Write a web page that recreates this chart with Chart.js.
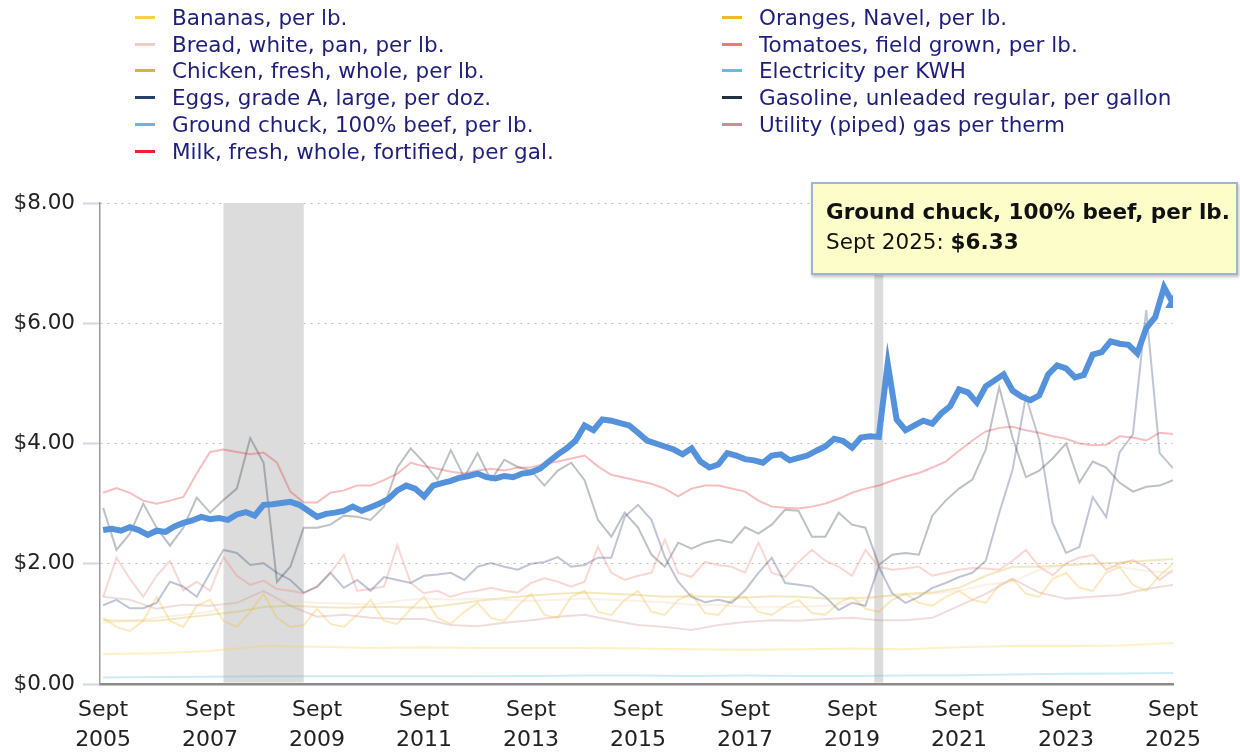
<!DOCTYPE html>
<html>
<head>
<meta charset="utf-8">
<script src="https://cdn.jsdelivr.net/npm/chart.js@4.4.1/dist/chart.umd.min.js"></script>
<style>
  body { margin: 0; background: #fff; font-family: "DejaVu Sans", Verdana, sans-serif; }
  #wrap { position: relative; width: 1240px; height: 755px; overflow: hidden; }
  #chart { position: absolute; left: 0; top: 0; }
  .legend-col { position: absolute; top: 4px; }
  .legend-item { height: 26.8px; display: flex; align-items: center; font-size: 21.5px; color: #1f1f7a; white-space: nowrap; }
  .legend-item .swatch { width: 20px; height: 3px; margin-right: 17px; flex: none; }
  #tip { position: absolute; left: 811px; top: 182px; width: 427px; height: 93px; box-sizing: border-box;
         background: #fdfdca; border: 2px solid #9db5d4; box-shadow: 1px 2px 3px rgba(0,0,0,0.25);
         padding: 13px 0 0 13px; color: #111; font-size: 21.5px; line-height: 30px; white-space: nowrap; }
  #tip .t { font-weight: bold; }
</style>
</head>
<body>
<div id="wrap">
  <canvas id="chart" width="1240" height="755"></canvas>
  <div class="legend-col" id="legend-left" style="left:135px"></div>
  <div class="legend-col" id="legend-right" style="left:722px"></div>
  <div id="tip"><div class="t" id="tip-title"></div><div id="tip-body"></div></div>
</div>
<script>
// months are counted from Sept 2005 (0) to Sept 2025 (240)
const seriesNames = [
  'Bananas, per lb.',
  'Bread, white, pan, per lb.',
  'Chicken, fresh, whole, per lb.',
  'Eggs, grade A, large, per doz.',
  'Ground chuck, 100% beef, per lb.',
  'Milk, fresh, whole, fortified, per gal.',
  'Oranges, Navel, per lb.',
  'Tomatoes, field grown, per lb.',
  'Electricity per KWH',
  'Gasoline, unleaded regular, per gallon',
  'Utility (piped) gas per therm'
];
const seriesColors = ['#f7d23e', '#f2cfae', '#d8b733', '#2c3e6e', '#72b0ea', '#e8232a',
                      '#f4b62c', '#f07b6b', '#5cc1dc', '#23303f', '#c9908f'];
// sampling step (months) of each series
const seriesSteps = [12, 6, 6, 3, 2, 3, 3, 3, 12, 3, 6];

const tickYears = [2005, 2007, 2009, 2011, 2013, 2015, 2017, 2019, 2021, 2023, 2025];
const yTicks = [0, 2, 4, 6, 8];
const recessions = [[27, 45], [173, 175]]; // Dec 2007 - Jun 2009, Feb - Apr 2020

// yearly, each Sept
const bananas = [0.50, 0.51, 0.55, 0.63, 0.62, 0.60, 0.61, 0.60, 0.60, 0.60, 0.59,
                 0.58, 0.57, 0.58, 0.59, 0.58, 0.61, 0.63, 0.63, 0.64, 0.68];
const electricity = [0.11, 0.115, 0.12, 0.13, 0.13, 0.13, 0.13, 0.13, 0.135, 0.14, 0.14,
                     0.135, 0.14, 0.135, 0.135, 0.14, 0.145, 0.16, 0.17, 0.175, 0.185];

// every 6 months (Sept, Mar)
const bread = [1.02, 1.05, 1.10, 1.15, 1.20, 1.35, 1.40, 1.38, 1.35, 1.34, 1.32, 1.38, 1.42, 1.40,
               1.42, 1.40, 1.38, 1.40, 1.42, 1.40, 1.38, 1.36, 1.32, 1.32, 1.28, 1.28, 1.28, 1.30,
               1.35, 1.45, 1.48, 1.50, 1.55, 1.65, 1.70, 1.90, 1.98, 2.00, 1.95, 1.88, 1.85];
const chicken = [1.06, 1.05, 1.05, 1.10, 1.15, 1.20, 1.28, 1.30, 1.28, 1.27, 1.28, 1.28, 1.27, 1.32,
                 1.38, 1.43, 1.47, 1.50, 1.52, 1.50, 1.48, 1.45, 1.46, 1.45, 1.44, 1.46, 1.45, 1.42,
                 1.42, 1.45, 1.50, 1.52, 1.60, 1.80, 1.95, 1.95, 1.98, 2.00, 2.02, 2.05, 2.08];
const utilityGas = [1.45, 1.40, 1.25, 1.32, 1.30, 1.35, 1.55, 1.30, 1.12, 1.15, 1.10, 1.08, 1.08, 0.98,
                    0.96, 1.02, 1.06, 1.12, 1.15, 1.06, 0.98, 0.95, 0.90, 0.98, 1.03, 1.06, 1.05, 1.08,
                    1.10, 1.06, 1.06, 1.10, 1.30, 1.50, 1.75, 1.52, 1.42, 1.45, 1.48, 1.58, 1.65];

// quarterly (Sept, Dec, Mar, June)
const eggs = [1.31, 1.40, 1.26, 1.26, 1.35, 1.70, 1.62, 1.45, 1.85, 2.23, 2.18, 1.98,
              2.01, 1.85, 1.73, 1.52, 1.62, 1.85, 1.60, 1.73, 1.55, 1.78, 1.73, 1.68,
              1.80, 1.82, 1.85, 1.73, 1.95, 2.01, 1.95, 1.90, 2.00, 2.03, 2.11, 1.95,
              1.98, 2.10, 2.10, 2.78, 2.98, 2.73, 2.11, 1.70, 1.45, 1.36, 1.40, 1.35,
              1.56, 1.85, 2.10, 1.68, 1.65, 1.62, 1.45, 1.23, 1.35, 1.30, 1.95, 1.51,
              1.35, 1.45, 1.60, 1.68, 1.78, 1.85, 2.05, 2.84, 3.56, 4.78, 4.06, 2.68,
              2.18, 2.28, 3.11, 2.78, 3.85, 4.15, 6.22, 3.84, 3.59];
const milk = [3.18, 3.26, 3.18, 3.05, 3.00, 3.05, 3.11, 3.50, 3.86, 3.90, 3.86, 3.82,
              3.85, 3.68, 3.20, 3.02, 3.02, 3.18, 3.22, 3.30, 3.30, 3.39, 3.50, 3.68,
              3.62, 3.58, 3.53, 3.50, 3.55, 3.58, 3.55, 3.60, 3.60, 3.66, 3.70, 3.75,
              3.80, 3.62, 3.48, 3.43, 3.38, 3.33, 3.25, 3.12, 3.25, 3.30, 3.30, 3.25,
              3.20, 3.05, 2.95, 2.93, 2.92, 2.95, 3.00, 3.08, 3.18, 3.25, 3.30, 3.38,
              3.45, 3.51, 3.60, 3.70, 3.88, 4.05, 4.20, 4.26, 4.28, 4.22, 4.18, 4.12,
              4.08, 4.00, 3.97, 3.98, 4.12, 4.10, 4.05, 4.18, 4.16];
const oranges = [1.10, 0.95, 0.88, 1.05, 1.45, 1.05, 0.95, 1.30, 1.40, 1.05, 0.95, 1.20,
                 1.50, 1.10, 0.95, 0.98, 1.25, 1.00, 0.95, 1.15, 1.40, 1.05, 1.00, 1.25,
                 1.45, 1.10, 1.00, 1.20, 1.35, 1.10, 1.05, 1.30, 1.50, 1.15, 1.10, 1.45,
                 1.55, 1.20, 1.15, 1.40, 1.55, 1.20, 1.15, 1.40, 1.50, 1.18, 1.15, 1.40,
                 1.45, 1.20, 1.15, 1.30, 1.40, 1.18, 1.15, 1.35, 1.45, 1.25, 1.20, 1.40,
                 1.50, 1.35, 1.30, 1.45, 1.55, 1.40, 1.35, 1.65, 1.75, 1.50, 1.45, 1.75,
                 1.85, 1.60, 1.55, 1.85, 1.95, 1.65, 1.55, 1.80, 2.00];
const tomatoes = [1.45, 2.10, 1.75, 1.45, 1.80, 2.05, 1.56, 1.70, 1.55, 2.11, 1.80, 1.65,
                  1.72, 1.58, 1.55, 1.51, 1.62, 1.85, 2.15, 1.55, 1.58, 1.62, 2.31, 1.68,
                  1.51, 1.55, 1.45, 1.52, 1.55, 1.60, 1.55, 1.52, 1.68, 1.76, 1.70, 1.62,
                  1.70, 2.28, 1.85, 1.73, 1.80, 1.85, 2.40, 1.85, 1.78, 2.03, 1.98, 1.95,
                  1.85, 2.35, 1.85, 1.78, 2.03, 2.23, 2.05, 1.95, 1.80, 2.23, 1.95, 1.90,
                  1.92, 1.95, 1.80, 1.85, 1.90, 1.93, 1.92, 1.90, 2.05, 2.23, 1.95, 1.81,
                  2.01, 2.10, 2.15, 1.90, 2.00, 2.06, 1.95, 1.73, 1.90];
const gasoline = [2.93, 2.23, 2.50, 3.00, 2.60, 2.30, 2.60, 3.10, 2.85, 3.06, 3.25, 4.09,
                  3.68, 1.70, 1.95, 2.60, 2.60, 2.65, 2.80, 2.78, 2.73, 2.95, 3.60, 3.92,
                  3.68, 3.40, 3.89, 3.44, 3.84, 3.39, 3.73, 3.61, 3.55, 3.30, 3.55, 3.68,
                  3.39, 2.73, 2.45, 2.85, 2.60, 2.15, 1.95, 2.35, 2.25, 2.35, 2.40, 2.35,
                  2.61, 2.50, 2.65, 2.90, 2.88, 2.45, 2.45, 2.85, 2.65, 2.60, 1.98, 2.15,
                  2.18, 2.15, 2.80, 3.05, 3.25, 3.40, 3.90, 4.94, 4.10, 3.44, 3.55, 3.75,
                  4.00, 3.35, 3.70, 3.60, 3.35, 3.20, 3.28, 3.30, 3.39];

// every 2 months (Sept, Nov, Jan, Mar, May, July)
const groundChuck = [2.56, 2.58, 2.55, 2.61, 2.56, 2.48, 2.55, 2.53, 2.62, 2.68, 2.72, 2.78,
                     2.74, 2.76, 2.73, 2.82, 2.86, 2.80, 2.98, 2.99, 3.01, 3.03, 2.98, 2.88,
                     2.78, 2.83, 2.85, 2.88, 2.95, 2.88, 2.94, 3.00, 3.08, 3.22, 3.30, 3.25,
                     3.12, 3.30, 3.34, 3.38, 3.43, 3.46, 3.50, 3.44, 3.42, 3.46, 3.44, 3.50,
                     3.52, 3.58, 3.70, 3.82, 3.92, 4.05, 4.30, 4.22, 4.40, 4.38, 4.34, 4.30,
                     4.18, 4.05, 4.00, 3.95, 3.90, 3.82, 3.92, 3.70, 3.60, 3.65, 3.84, 3.80,
                     3.74, 3.72, 3.68, 3.80, 3.82, 3.72, 3.76, 3.80, 3.88, 3.95, 4.08, 4.04,
                     3.93, 4.10, 4.12, 4.11, 5.33, 4.40, 4.22, 4.30, 4.38, 4.33, 4.50, 4.62,
                     4.90, 4.85, 4.68, 4.95, 5.05, 5.15, 4.88, 4.78, 4.72, 4.80, 5.15, 5.30,
                     5.25, 5.10, 5.14, 5.48, 5.52, 5.70, 5.66, 5.64, 5.50, 5.92, 6.10, 6.60,
                     6.33];

const seriesValues = [bananas, bread, chicken, eggs, groundChuck, milk, oranges, tomatoes,
                      electricity, gasoline, utilityGas];
const highlighted = 4;

function toPoints(values, step) {
  return values.map((v, i) => ({ x: i * step, y: v }));
}

function fade(hex, a) {
  const n = parseInt(hex.slice(1), 16);
  return `rgba(${n >> 16},${(n >> 8) & 255},${n & 255},${a})`;
}

// legend, two columns
seriesNames.forEach((name, i) => {
  const col = document.getElementById(i < 6 ? 'legend-left' : 'legend-right');
  const item = document.createElement('div');
  item.className = 'legend-item';
  item.innerHTML = `<span class="swatch" style="background:${seriesColors[i]}"></span><span>${name}</span>`;
  col.appendChild(item);
});

// fixed tooltip on the last ground chuck value
const lastValue = groundChuck[groundChuck.length - 1];
document.getElementById('tip-title').textContent = seriesNames[highlighted];
document.getElementById('tip-body').innerHTML =
  `Sept ${tickYears[tickYears.length - 1]}: <b>$${lastValue.toFixed(2)}</b>`;

const recessionBands = {
  id: 'recessionBands',
  beforeDatasetsDraw(chart) {
    const { ctx, chartArea, scales: { x } } = chart;
    ctx.save();
    ctx.fillStyle = '#dcdcdc';
    recessions.forEach(([a, b]) => {
      const x1 = x.getPixelForValue(a);
      const x2 = x.getPixelForValue(b);
      ctx.fillRect(x1, chartArea.top, x2 - x1, chartArea.bottom - chartArea.top - 1.5);
    });
    ctx.restore();
  }
};

const datasets = seriesNames.map((name, i) => {
  const isHi = i === highlighted;
  const pts = toPoints(seriesValues[i], seriesSteps[i]);
  return {
    label: name,
    data: pts,
    order: isHi ? 0 : 1,
    borderColor: isHi ? '#5592dc' : fade(seriesColors[i], 0.3),
    backgroundColor: isHi ? '#5592dc' : fade(seriesColors[i], 0.3),
    borderWidth: isHi ? 6 : 2,
    tension: 0,
    pointStyle: 'triangle',
    pointRadius: isHi ? (c => c.dataIndex === pts.length - 1 ? 9 : 0) : 0,
    pointBorderWidth: 0
  };
});

const fontFamily = '"DejaVu Sans", Verdana, sans-serif';

new Chart(document.getElementById('chart').getContext('2d'), {
  type: 'line',
  data: { datasets: datasets },
  options: {
    responsive: false,
    animation: false,
    events: [],
    layout: { padding: { top: 203, right: 67, bottom: 0, left: 0 } },
    plugins: { legend: { display: false }, tooltip: { enabled: false } },
    scales: {
      x: {
        type: 'linear',
        min: -0.7,
        max: 240,
        afterBuildTicks: s => { s.ticks = tickYears.map(y => ({ value: (y - 2005) * 12 })); },
        afterFit: s => { s.height = 71; },
        ticks: {
          autoSkip: false,
          maxRotation: 0,
          padding: 11,
          color: '#222',
          font: { family: fontFamily, size: 22, lineHeight: 1.38 },
          callback: v => ['Sept', String(2005 + v / 12)]
        },
        grid: { display: false, drawTicks: false },
        border: { color: '#8a8a8a', width: 2.5 }
      },
      y: {
        min: 0,
        max: 8,
        afterBuildTicks: s => { s.ticks = yTicks.map(v => ({ value: v })); },
        afterFit: s => { s.width = 100; },
        ticks: {
          padding: 8,
          color: '#222',
          font: { family: fontFamily, size: 21.5 },
          callback: v => '$' + v.toFixed(2)
        },
        grid: { color: '#bdbdbd', lineWidth: 1, tickLength: 17, tickColor: '#d3d7e6', tickWidth: 2, tickBorderDash: [] },
        border: { color: '#9a9a9a', width: 1.5, dash: [2, 5] }
      }
    }
  },
  plugins: [recessionBands]
});
</script>
</body>
</html>
